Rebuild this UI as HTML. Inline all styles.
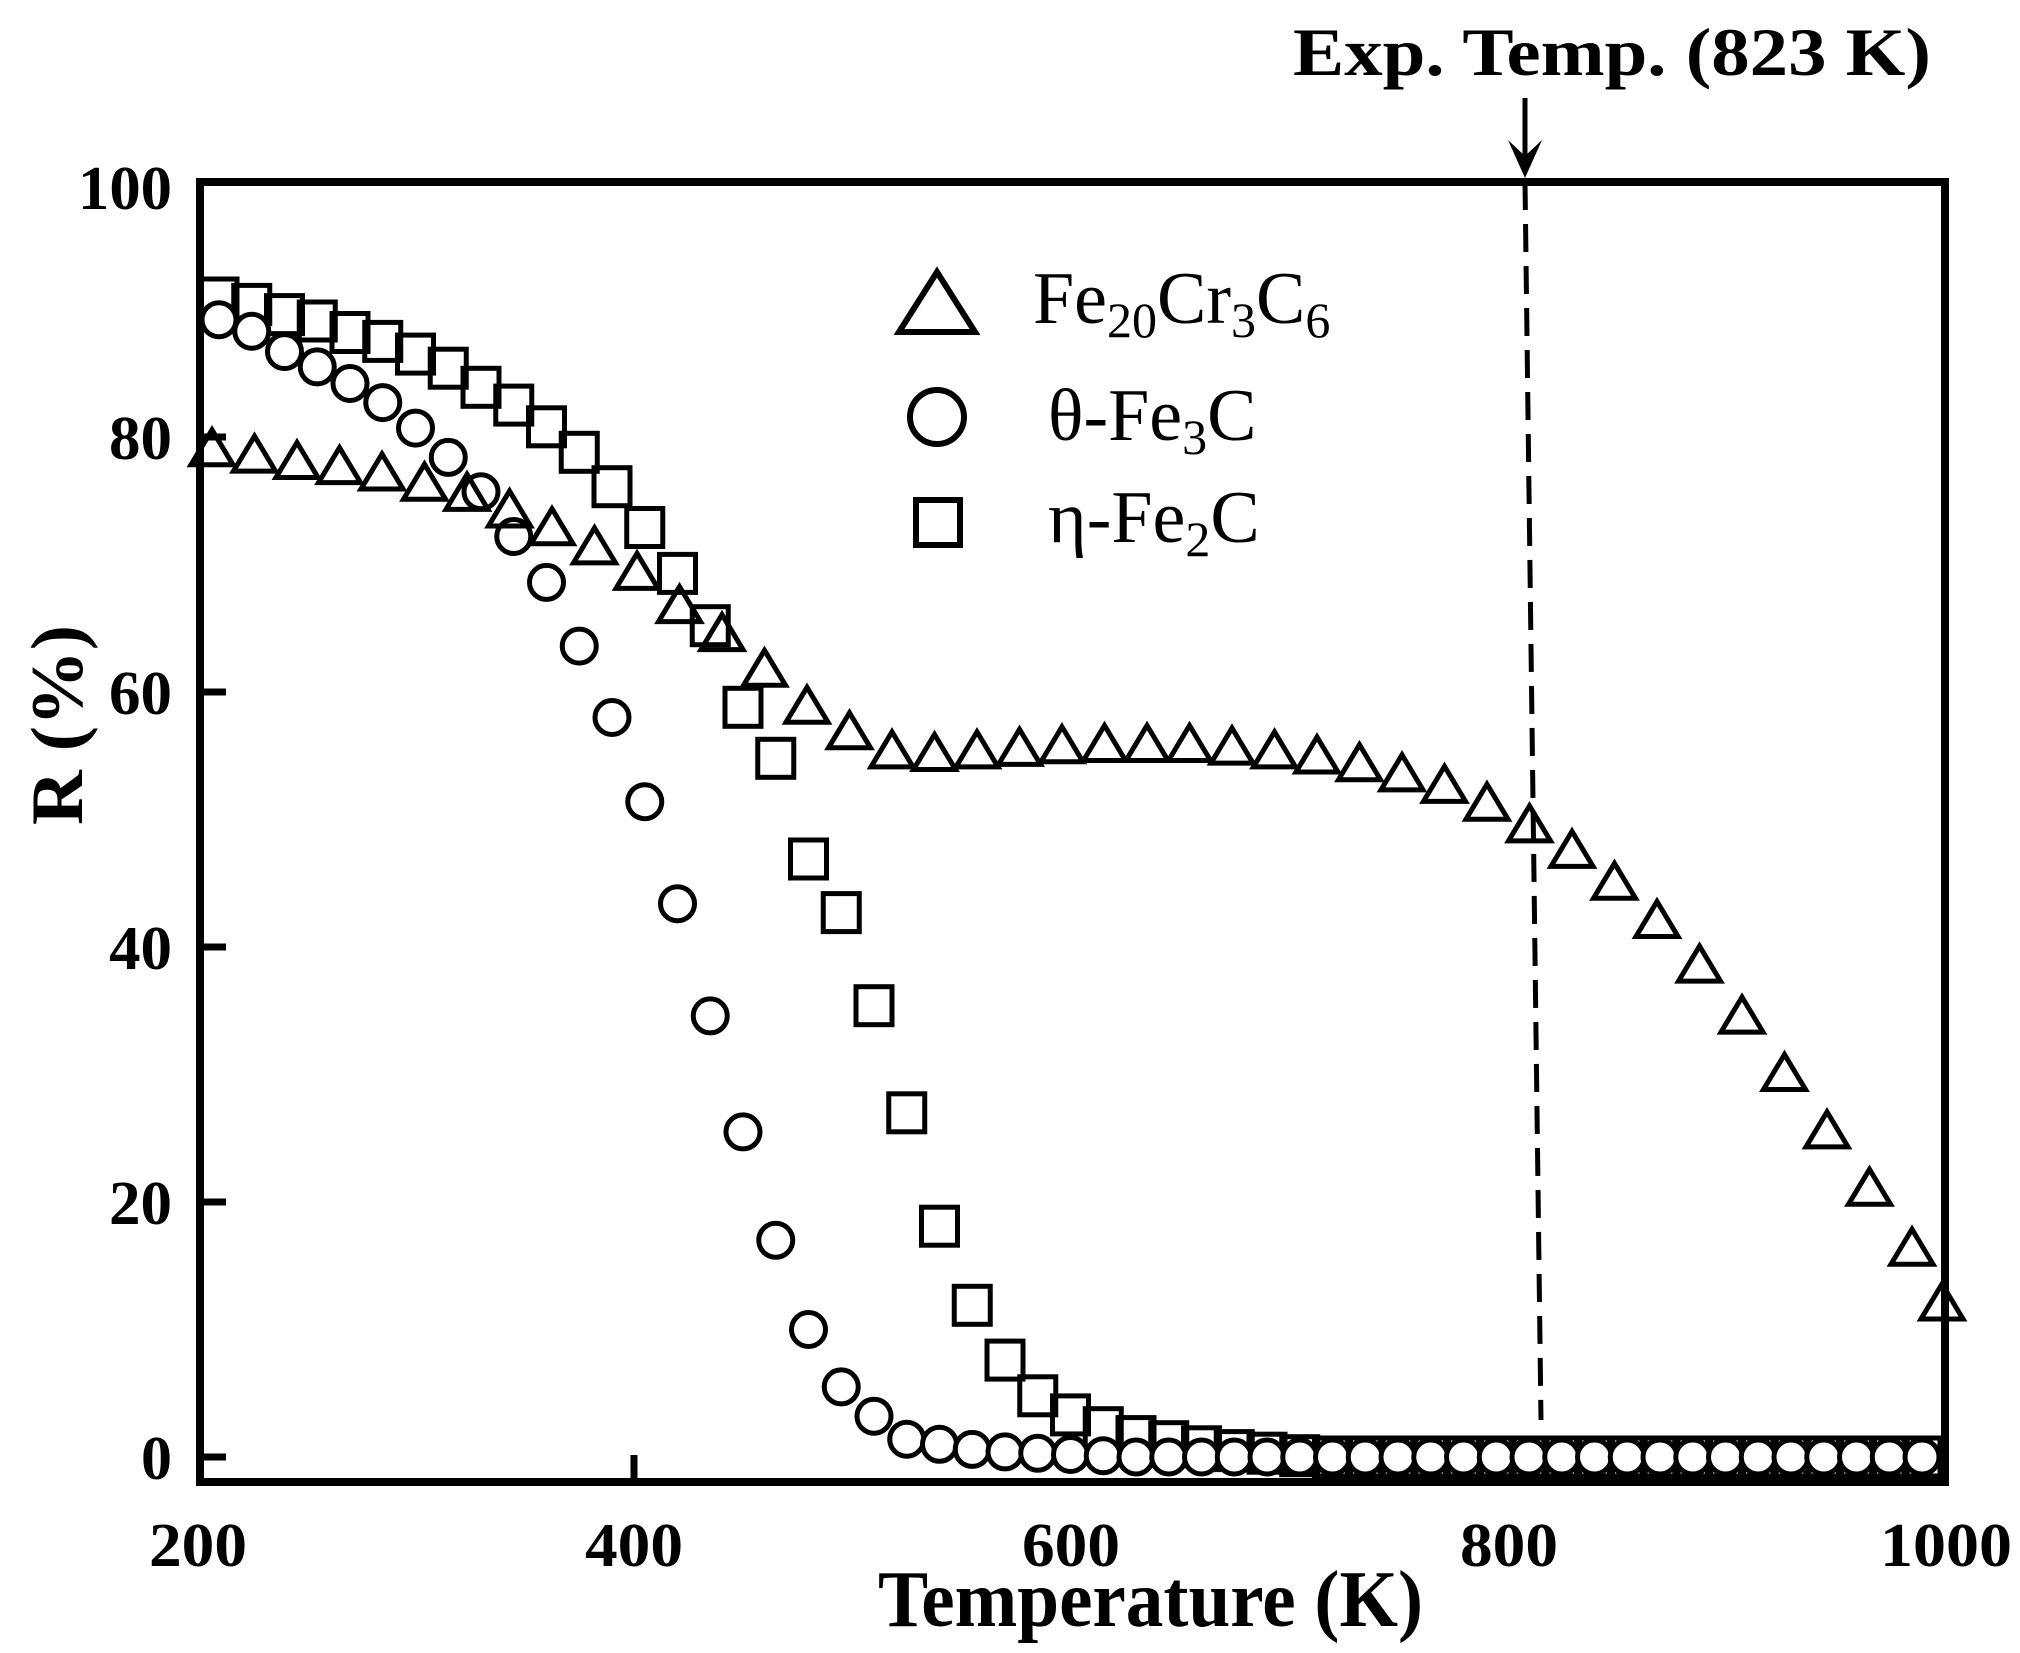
<!DOCTYPE html>
<html><head><meta charset="utf-8"><style>html,body{margin:0;padding:0;background:#fff}svg{display:block}</style></head>
<body>
<svg width="2020" height="1653" viewBox="0 0 2020 1653" xmlns="http://www.w3.org/2000/svg" xmlns:xlink="http://www.w3.org/1999/xlink">
<defs>
<rect id="q" x="-18" y="-19" width="36" height="38" fill="none" stroke="#000" stroke-width="5"/>
<circle id="c" r="17" fill="#fff" stroke="#000" stroke-width="5"/>
<path id="t" d="M0,-20 L-21,15 L21,15 Z" fill="none" stroke="#000" stroke-width="5"/>
</defs>
<rect width="2020" height="1653" fill="#fff"/>
<g>
<use href="#q" x="219" y="298"/><use href="#q" x="251.75" y="304.4"/><use href="#q" x="284.5" y="314.6"/><use href="#q" x="317.25" y="321"/><use href="#q" x="350" y="332.5"/><use href="#q" x="382.75" y="341.4"/><use href="#q" x="415.5" y="354.1"/><use href="#q" x="448.25" y="368.2"/><use href="#q" x="481" y="387.3"/><use href="#q" x="513.75" y="405.1"/><use href="#q" x="546.5" y="426.8"/><use href="#q" x="579.25" y="452.3"/><use href="#q" x="612" y="486.7"/><use href="#q" x="644.75" y="527.5"/><use href="#q" x="677.5" y="573.4"/><use href="#q" x="710.25" y="625.7"/><use href="#q" x="743" y="707.3"/><use href="#q" x="775.75" y="758.3"/><use href="#q" x="808.5" y="859"/><use href="#q" x="841.25" y="912.6"/><use href="#q" x="874" y="1005.7"/><use href="#q" x="906.75" y="1112.8"/><use href="#q" x="939.5" y="1226.2"/><use href="#q" x="972.25" y="1305.3"/><use href="#q" x="1005" y="1360.1"/><use href="#q" x="1037.75" y="1395.8"/><use href="#q" x="1070.5" y="1414.9"/><use href="#q" x="1103.25" y="1427.7"/><use href="#q" x="1136" y="1436.6"/><use href="#q" x="1168.75" y="1441.7"/><use href="#q" x="1201.5" y="1446.8"/><use href="#q" x="1234.25" y="1450.6"/><use href="#q" x="1267" y="1453.2"/><use href="#q" x="1299.75" y="1455.7"/><use href="#q" x="1332.5" y="1457"/><use href="#q" x="1365.25" y="1457"/><use href="#q" x="1398" y="1457"/><use href="#q" x="1430.75" y="1457"/><use href="#q" x="1463.5" y="1457"/><use href="#q" x="1496.25" y="1457"/><use href="#q" x="1529" y="1457"/><use href="#q" x="1561.75" y="1457"/><use href="#q" x="1594.5" y="1457"/><use href="#q" x="1627.25" y="1457"/><use href="#q" x="1660" y="1457"/><use href="#q" x="1692.75" y="1457"/><use href="#q" x="1725.5" y="1457"/><use href="#q" x="1758.25" y="1457"/><use href="#q" x="1791" y="1457"/><use href="#q" x="1823.75" y="1457"/><use href="#q" x="1856.5" y="1457"/><use href="#q" x="1889.25" y="1457"/><use href="#q" x="1922" y="1457"/>
</g>
<g>
<use href="#c" x="219" y="319.7"/><use href="#c" x="251.75" y="331.2"/><use href="#c" x="284.5" y="351.6"/><use href="#c" x="317.25" y="366.9"/><use href="#c" x="350" y="383.5"/><use href="#c" x="382.75" y="402.6"/><use href="#c" x="415.5" y="428.1"/><use href="#c" x="448.25" y="457.4"/><use href="#c" x="481" y="491.8"/><use href="#c" x="513.75" y="536.5"/><use href="#c" x="546.5" y="582.4"/><use href="#c" x="579.25" y="646.1"/><use href="#c" x="612" y="717.5"/><use href="#c" x="644.75" y="801.7"/><use href="#c" x="677.5" y="903.7"/><use href="#c" x="710.25" y="1015.9"/><use href="#c" x="743" y="1131.9"/><use href="#c" x="775.75" y="1240.3"/><use href="#c" x="808.5" y="1329.5"/><use href="#c" x="841.25" y="1386.9"/><use href="#c" x="874" y="1416.2"/><use href="#c" x="906.75" y="1439.2"/><use href="#c" x="939.5" y="1444.3"/><use href="#c" x="972.25" y="1449.4"/><use href="#c" x="1005" y="1451.9"/><use href="#c" x="1037.75" y="1453.2"/><use href="#c" x="1070.5" y="1454.5"/><use href="#c" x="1103.25" y="1455.7"/><use href="#c" x="1136" y="1457"/><use href="#c" x="1168.75" y="1457"/><use href="#c" x="1201.5" y="1457"/><use href="#c" x="1234.25" y="1457"/><use href="#c" x="1267" y="1457"/><use href="#c" x="1299.75" y="1457"/><use href="#c" x="1332.5" y="1457"/><use href="#c" x="1365.25" y="1457"/><use href="#c" x="1398" y="1457"/><use href="#c" x="1430.75" y="1457"/><use href="#c" x="1463.5" y="1457"/><use href="#c" x="1496.25" y="1457"/><use href="#c" x="1529" y="1457"/><use href="#c" x="1561.75" y="1457"/><use href="#c" x="1594.5" y="1457"/><use href="#c" x="1627.25" y="1457"/><use href="#c" x="1660" y="1457"/><use href="#c" x="1692.75" y="1457"/><use href="#c" x="1725.5" y="1457"/><use href="#c" x="1758.25" y="1457"/><use href="#c" x="1791" y="1457"/><use href="#c" x="1823.75" y="1457"/><use href="#c" x="1856.5" y="1457"/><use href="#c" x="1889.25" y="1457"/><use href="#c" x="1922" y="1457"/>
</g>
<g>
<use href="#t" x="212" y="449.8"/><use href="#t" x="254.5" y="456.1"/><use href="#t" x="297" y="462.5"/><use href="#t" x="339.5" y="467.6"/><use href="#t" x="382" y="474"/><use href="#t" x="424.5" y="484.2"/><use href="#t" x="467" y="494.4"/><use href="#t" x="509.5" y="511"/><use href="#t" x="552" y="528.8"/><use href="#t" x="594.5" y="547.9"/><use href="#t" x="637" y="573.4"/><use href="#t" x="679.5" y="606.6"/><use href="#t" x="722" y="634.6"/><use href="#t" x="764.5" y="670.3"/><use href="#t" x="807" y="707.3"/><use href="#t" x="849.5" y="732.8"/><use href="#t" x="892" y="751.9"/><use href="#t" x="934.5" y="754.5"/><use href="#t" x="977" y="751.9"/><use href="#t" x="1019.5" y="749.4"/><use href="#t" x="1062" y="746.8"/><use href="#t" x="1104.5" y="745.5"/><use href="#t" x="1147" y="745.5"/><use href="#t" x="1189.5" y="745.5"/><use href="#t" x="1232" y="748.1"/><use href="#t" x="1274.5" y="751.9"/><use href="#t" x="1317" y="757"/><use href="#t" x="1359.5" y="764.7"/><use href="#t" x="1402" y="774.9"/><use href="#t" x="1444.5" y="786.4"/><use href="#t" x="1487" y="804.2"/><use href="#t" x="1529.5" y="825.9"/><use href="#t" x="1572" y="851.4"/><use href="#t" x="1614.5" y="883.3"/><use href="#t" x="1657" y="921.5"/><use href="#t" x="1699.5" y="966.1"/><use href="#t" x="1742" y="1017.1"/><use href="#t" x="1784.5" y="1074.5"/><use href="#t" x="1827" y="1131.9"/><use href="#t" x="1869.5" y="1189.3"/><use href="#t" x="1912" y="1249.2"/><use href="#t" x="1942" y="1304"/>
</g>
<line x1="1525" y1="182" x2="1541" y2="1420" stroke="#000" stroke-width="5" stroke-dasharray="28,14"/>
<rect x="200" y="182" width="1745" height="1300" fill="none" stroke="#000" stroke-width="8"/>
<g stroke="#000" stroke-width="7">
<line x1="200" y1="1457" x2="226" y2="1457"/><line x1="200" y1="1202" x2="226" y2="1202"/>
<line x1="200" y1="947" x2="226" y2="947"/><line x1="200" y1="692" x2="226" y2="692"/>
<line x1="200" y1="437" x2="226" y2="437"/>
<line x1="634" y1="1482" x2="634" y2="1455"/>
</g>
<line x1="1525" y1="98" x2="1525" y2="172" stroke="#000" stroke-width="5"/>
<polygon points="1508,140 1525,178 1542,140 1525,156" fill="#000"/>
<g font-family="Liberation Serif, serif" font-weight="bold" fill="#000">
<text x="1293" y="75" font-size="68" textLength="638" lengthAdjust="spacingAndGlyphs">Exp. Temp. (823 K)</text>
<g text-anchor="end" font-size="62">
<text x="172" y="209" textLength="94" lengthAdjust="spacingAndGlyphs">100</text><text x="172" y="459" textLength="63" lengthAdjust="spacingAndGlyphs">80</text><text x="172" y="714" textLength="63" lengthAdjust="spacingAndGlyphs">60</text>
<text x="172" y="969" textLength="63" lengthAdjust="spacingAndGlyphs">40</text><text x="172" y="1224" textLength="63" lengthAdjust="spacingAndGlyphs">20</text><text x="172" y="1479" textLength="31" lengthAdjust="spacingAndGlyphs">0</text>
</g>
<g text-anchor="middle" font-size="62">
<text x="198" y="1566" textLength="98" lengthAdjust="spacingAndGlyphs">200</text><text x="634" y="1566" textLength="98" lengthAdjust="spacingAndGlyphs">400</text><text x="1071" y="1566" textLength="98" lengthAdjust="spacingAndGlyphs">600</text>
<text x="1509" y="1566" textLength="98" lengthAdjust="spacingAndGlyphs">800</text><text x="1946" y="1566" textLength="132" lengthAdjust="spacingAndGlyphs">1000</text>
</g>
<text x="878" y="1626" font-size="80" textLength="545" lengthAdjust="spacingAndGlyphs">Temperature (K)</text>
<text transform="translate(82,725) rotate(-90)" text-anchor="middle" font-size="74" textLength="200" lengthAdjust="spacingAndGlyphs">R (%)</text>
</g>
<polygon points="937,272 899,332 975,332" fill="none" stroke="#000" stroke-width="6"/>
<circle cx="937" cy="417" r="27" fill="none" stroke="#000" stroke-width="6"/>
<rect x="916" y="500" width="44" height="45" fill="none" stroke="#000" stroke-width="6"/>
<g font-family="Liberation Serif, serif" font-size="74" fill="#000">
<text x="1033" y="323">Fe<tspan font-size="50" dy="14">20</tspan><tspan dy="-14">Cr</tspan><tspan font-size="50" dy="14">3</tspan><tspan dy="-14">C</tspan><tspan font-size="50" dy="14">6</tspan></text>
<text x="1048" y="440">θ-Fe<tspan font-size="50" dy="14">3</tspan><tspan dy="-14">C</tspan></text>
<text x="1048" y="542">η-Fe<tspan font-size="50" dy="14">2</tspan><tspan dy="-14">C</tspan></text>
</g>
</svg>
</body></html>
